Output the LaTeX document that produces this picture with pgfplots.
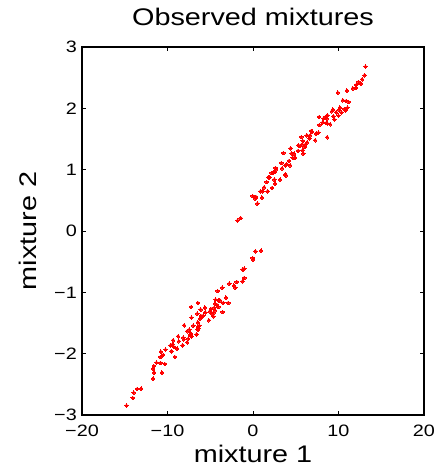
\documentclass[border=0pt]{standalone}
\usepackage{fontspec}
\setmainfont{Liberation Sans}[FakeStretch=1.2]
\usepackage{pgfplots}
\usepackage{pgfplotstable}
\pgfplotsset{compat=1.18}
\pgfplotstableread{
x y
-14.80 -2.847
-14.06 -2.722
-13.95 -2.635
-13.55 -2.576
-13.09 -2.570
-11.68 -2.407
-11.56 -2.309
-10.66 -2.309
-11.68 -2.244
-11.60 -2.201
-11.29 -2.146
-10.82 -2.152
-10.31 -2.168
-10.82 -2.054
-10.51 -2.021
-10.78 -1.967
-10.23 -1.934
-9.53 -1.961
-9.14 -2.054
-9.65 -1.864
-9.41 -1.847
-9.26 -1.891
-8.87 -1.918
-9.34 -1.782
-8.67 -1.798
-8.75 -1.717
-8.24 -1.864
-8.16 -1.739
-8.09 -1.766
-7.70 -1.815
-8.05 -1.538
-7.70 -1.635
-7.58 -1.755
-7.38 -1.690
-7.46 -1.608
-7.27 -1.673
-7.19 -1.717
-6.99 -1.543
-7.19 -1.413
-7.23 -1.239
-6.60 -1.684
-6.48 -1.608
-6.45 -1.489
-6.29 -1.543
-6.41 -1.565
-6.37 -1.592
-6.52 -1.347
-6.45 -1.173
-6.13 -1.282
-6.02 -1.402
-6.21 -1.429
-6.09 -1.385
-5.63 -1.249
-5.59 -1.326
-5.82 -1.380
-5.16 -1.456
-5.04 -1.309
-4.92 -1.271
-4.80 -1.347
-4.65 -1.391
-4.61 -1.331
-4.45 -1.293
-4.53 -1.249
-4.45 -1.184
-4.38 -1.119
-4.22 -1.206
-4.06 -1.238
-4.06 -1.130
-3.87 -1.130
-4.14 -0.978
-3.59 -0.923
-3.48 -1.173
-3.55 -1.320
-3.16 -1.086
-2.89 -1.173
-2.77 -0.858
-2.23 -0.891
-2.07 -0.923
-1.91 -0.831
-1.21 -0.821
-1.02 -0.766
-1.21 -0.630
-1.02 -0.614
-0.04 -0.440
0.00 -0.467
0.27 -0.331
0.94 -0.320
-1.80 0.170
-1.45 0.210
13.16 2.680
13.05 2.539
12.77 2.473
12.62 2.403
12.34 2.430
12.07 2.381
12.03 2.332
11.68 2.326
10.98 2.289
9.92 2.256
10.51 2.131
10.90 2.120
11.17 2.104
11.05 2.011
10.70 1.990
10.82 1.968
10.16 2.011
10.08 1.979
10.35 1.935
10.00 1.881
9.73 1.935
9.34 1.979
9.22 1.952
9.41 1.870
9.53 1.816
8.71 1.886
8.48 1.859
8.63 1.832
8.24 1.832
7.73 1.859
8.16 1.772
8.55 1.761
8.71 1.751
9.02 1.740
7.77 1.729
8.67 1.528
7.66 1.604
7.38 1.588
7.27 1.479
6.80 1.631
6.91 1.620
6.68 1.560
6.60 1.511
6.29 1.560
6.33 1.446
6.17 1.414
6.05 1.370
5.66 1.533
5.82 1.468
5.74 1.414
5.51 1.386
5.31 1.397
5.27 1.305
4.41 1.348
4.53 1.267
4.65 1.196
4.92 1.196
4.80 1.261
5.90 1.261
5.82 1.316
3.55 1.272
4.22 1.142
4.34 1.071
3.95 1.088
3.79 1.071
3.32 1.109
3.40 1.022
3.87 0.908
3.75 0.919
3.16 0.838
2.62 1.028
2.70 1.006
2.58 0.968
2.38 0.957
2.19 0.946
1.95 0.876
1.80 0.876
1.60 0.799
2.50 0.838
2.58 0.772
2.23 0.702
1.29 0.712
1.72 0.647
0.90 0.647
1.13 0.647
1.05 0.544
0.51 0.446
0.27 0.528
0.12 0.555
-0.04 0.571
0.35 0.555
}\datatable
\begin{document}
\begin{tikzpicture}
\useasboundingbox (-82bp,-52bp) rectangle (354bp,415bp);
\begin{axis}[
  scale only axis,
  width=342bp, height=368bp,
  xmin=-20, xmax=20, ymin=-3, ymax=3,
  xtick={-20,-10,0,10,20},
  xticklabels={−20,−10,0,10,20},
  ytick={-3,-2,-1,0,1,2,3},
  yticklabels={−3,−2,−1,0,1,2,3},
  tick align=inside,
  major tick length=4bp,
  axis line style={line width=1.1pt},
  every tick/.style={black, line width=0.7pt},
  tick label style={font=\fontsize{16.5bp}{20bp}\selectfont},
  xticklabel style={inner sep=0pt, anchor=north, yshift=-10bp},
  yticklabel style={inner sep=0pt, anchor=east, xshift=-5bp},
  title={Observed mixtures},
  title style={font=\fontsize{24bp}{28bp}\selectfont, at={(0.5,1)}, anchor=base, yshift=16bp, inner sep=0pt},
  xlabel={mixture 1},
  xlabel style={font=\fontsize{24bp}{28bp}\selectfont, at={(0.5,0)}, anchor=base, yshift=-47bp, inner sep=0pt},
  ylabel={mixture 2},
  ylabel style={font=\fontsize{24bp}{28bp}\selectfont, at={(0,0.5)}, anchor=base, yshift=45bp, inner sep=0pt},
]
\addplot[only marks, mark=*, mark size=1.8bp, mark options={draw=red, fill=red, line width=0pt}] table[x=x, y=y] {\datatable};
\end{axis}
\end{tikzpicture}
\end{document}
